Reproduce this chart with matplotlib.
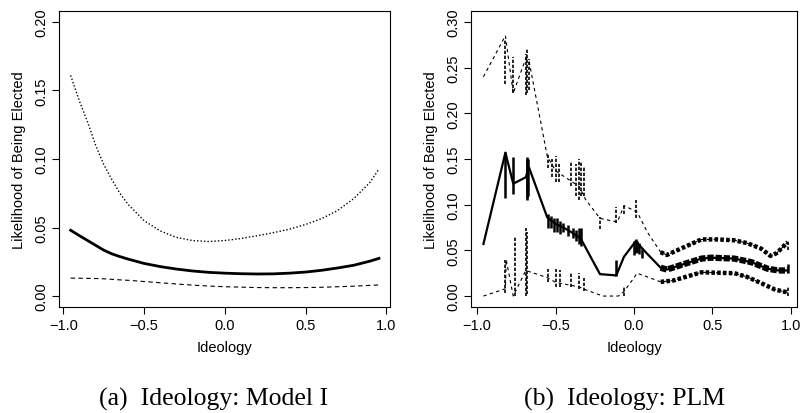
import matplotlib
matplotlib.use("Agg")
import matplotlib.pyplot as plt

plt.rcParams['font.family'] = ['Liberation Sans', 'DejaVu Sans']

# ---- panel (a): Model I ----
a_x = [-0.955, -0.9, -0.85, -0.8, -0.75, -0.7, -0.65, -0.6, -0.5, -0.4, -0.3, -0.2, -0.1, 0.0, 0.1, 0.2,
       0.3, 0.4, 0.5, 0.6, 0.7, 0.8, 0.9, 0.955]
a_mean = [0.048, 0.044, 0.0405, 0.037, 0.0335, 0.0308, 0.0288, 0.027, 0.0238, 0.0215, 0.0197, 0.0183, 0.0173,
          0.0167, 0.0163, 0.0161, 0.0162, 0.0167, 0.0175, 0.0188, 0.0205, 0.0225, 0.0255, 0.0275]
a_upper = [0.161, 0.142, 0.127, 0.110, 0.096, 0.085, 0.075, 0.067, 0.055, 0.0475, 0.0428, 0.0405, 0.0398,
           0.0405, 0.042, 0.044, 0.0462, 0.0488, 0.0522, 0.0565, 0.0625, 0.0712, 0.083, 0.0927]
a_lower = [0.0131, 0.013, 0.0129, 0.0128, 0.0126, 0.0122, 0.0118, 0.0115, 0.0106, 0.0097, 0.0088, 0.008, 0.0073,
           0.0068, 0.0065, 0.0062, 0.0061, 0.0061, 0.0062, 0.0064, 0.0068, 0.0072, 0.0078, 0.0081]

# ---- panel (b): PLM ----
b_x = [-0.96, -0.82, -0.77, -0.69, -0.67, -0.553, -0.5, -0.45, -0.4, -0.34, -0.217, -0.113, -0.064, 0.011,
       0.08, 0.17, 0.21, 0.3, 0.43, 0.49, 0.64, 0.75, 0.85, 0.92, 0.98]
b_mean = [0.057, 0.157, 0.123, 0.13, 0.141, 0.086, 0.079, 0.075, 0.07, 0.063, 0.024, 0.0226, 0.043, 0.06,
          0.047, 0.031, 0.029, 0.034, 0.041, 0.042, 0.041, 0.037, 0.03, 0.028, 0.028]
b_upper_x = [-0.96, -0.82, -0.77, -0.69, -0.67, -0.553, -0.5, -0.35, -0.31, -0.217, -0.106, -0.064, 0.02, 0.085,
             0.17, 0.21, 0.3, 0.43, 0.53, 0.64, 0.72, 0.81, 0.87, 0.91, 0.98]
b_upper = [0.24, 0.285, 0.222, 0.26, 0.258, 0.153, 0.137, 0.12, 0.106, 0.085, 0.081, 0.099, 0.092, 0.07,
           0.048, 0.045, 0.052, 0.062, 0.062, 0.061, 0.058, 0.052, 0.044, 0.047, 0.059]
b_lower_x = [-0.96, -0.82, -0.815, -0.77, -0.69, -0.55, -0.5, -0.35, -0.31, -0.2, -0.1, -0.064, 0.0, 0.02,
             0.1, 0.17, 0.25, 0.43, 0.64, 0.72, 0.8, 0.9, 0.98]
b_lower = [0.0, 0.008, 0.04, 0.0, 0.028, 0.02, 0.015, 0.01, 0.007, 0.0, 0.0, 0.005, 0.02, 0.025,
           0.02, 0.0155, 0.017, 0.026, 0.025, 0.021, 0.015, 0.007, 0.004]

# vertical spikes (x, low, high) seen on the PLM bands
mean_spk_x = [-0.82, -0.77, -0.685, -0.68, -0.675, -0.55, -0.53, -0.51, -0.49, -0.47, -0.45, -0.42, -0.39, -0.37,
              -0.35, -0.34, -0.113, 0.0, 0.01, 0.02, 0.03, 0.05, 0.98]
mean_spk_lo = [0.107, 0.112, 0.105, 0.107, 0.11, 0.075, 0.075, 0.07, 0.07, 0.068, 0.07, 0.066, 0.063, 0.06,
               0.057, 0.055, 0.022, 0.045, 0.047, 0.048, 0.046, 0.042, 0.025]
mean_spk_hi = [0.158, 0.152, 0.15, 0.152, 0.15, 0.09, 0.088, 0.085, 0.085, 0.082, 0.08, 0.078, 0.075, 0.072,
               0.075, 0.075, 0.04, 0.06, 0.062, 0.06, 0.058, 0.052, 0.035]
up_spk_x = [-0.82, -0.77, -0.69, -0.68, -0.67, -0.55, -0.52, -0.5, -0.48, -0.4, -0.37, -0.35, -0.34, -0.32,
            -0.217, -0.113, -0.064, 0.015, 0.98]
up_spk_lo = [0.232, 0.222, 0.22, 0.222, 0.225, 0.14, 0.13, 0.125, 0.125, 0.12, 0.11, 0.105, 0.11, 0.11,
             0.073, 0.08, 0.09, 0.085, 0.05]
up_spk_hi = [0.28, 0.262, 0.265, 0.272, 0.26, 0.157, 0.15, 0.153, 0.145, 0.148, 0.145, 0.15, 0.148, 0.142,
             0.087, 0.097, 0.1, 0.105, 0.061]
lo_spk_x = [-0.82, -0.76, -0.69, -0.685, -0.55, -0.5, -0.47, -0.4, -0.35, -0.32, -0.064, 0.98]
lo_spk_lo = [0.003, 0.0, 0.0, 0.002, 0.015, 0.01, 0.01, 0.01, 0.008, 0.005, 0.0, 0.0]
lo_spk_hi = [0.04, 0.066, 0.075, 0.07, 0.03, 0.03, 0.028, 0.025, 0.025, 0.02, 0.01, 0.01]

fig = plt.figure(figsize=(8, 4.14), dpi=100)
ax1 = fig.add_axes([0.074, 0.256, 0.414, 0.715])
ax2 = fig.add_axes([0.589, 0.256, 0.407, 0.715])

ax1.plot(a_x, a_mean, color='black', lw=2.0)
ax1.plot(a_x, a_upper, color='black', lw=1.0, linestyle=(0, (1, 1.5)))
ax1.plot(a_x, a_lower, color='black', lw=0.8, linestyle=(0, (4, 3)))
ax1.set_xlim(-1.026, 1.026)
ax1.set_ylim(-0.008, 0.208)
ax1.set_yticks([0.0, 0.05, 0.10, 0.15, 0.20])
ax1.set_yticklabels(['0.00', '0.05', '0.10', '0.15', '0.20'])

ax2.plot(b_x, b_mean, color='black', lw=1.6)
band = [i for i, v in enumerate(b_x) if v >= 0.15]
ax2.plot([b_x[i] for i in band], [b_mean[i] for i in band], color='black', lw=4.5, linestyle=(0, (1, 0.3)))
ax2.plot(b_upper_x, b_upper, color='black', lw=0.8, linestyle=(0, (3, 3)))
bu = [i for i, v in enumerate(b_upper_x) if v >= 0.15]
ax2.plot([b_upper_x[i] for i in bu], [b_upper[i] for i in bu], color='black', lw=3.2, linestyle=(0, (0.8, 0.5)))
ax2.plot(b_lower_x, b_lower, color='black', lw=0.8, linestyle=(0, (3, 3)))
bl = [i for i, v in enumerate(b_lower_x) if v >= 0.15]
ax2.plot([b_lower_x[i] for i in bl], [b_lower[i] for i in bl], color='black', lw=3.2, linestyle=(0, (0.8, 0.5)))
ax2.vlines(mean_spk_x, mean_spk_lo, mean_spk_hi, color='black', lw=1.8)
ax2.vlines(up_spk_x, up_spk_lo, up_spk_hi, color='black', lw=1.2, linestyle=(0, (2, 1)))
ax2.vlines(lo_spk_x, lo_spk_lo, lo_spk_hi, color='black', lw=1.2, linestyle=(0, (2, 1)))
ax2.set_xlim(-1.038, 1.038)
ax2.set_ylim(-0.012, 0.312)
ax2.set_yticks([0.0, 0.05, 0.10, 0.15, 0.20, 0.25, 0.30])
ax2.set_yticklabels(['0.00', '0.05', '0.10', '0.15', '0.20', '0.25', '0.30'])

for ax in (ax1, ax2):
    ax.set_xticks([-1.0, -0.5, 0.0, 0.5, 1.0])
    ax.set_xticklabels(['\u22121.0', '\u22120.5', '0.0', '0.5', '1.0'])
    ax.tick_params(direction='out', length=5, width=0.8, labelsize=10.5, pad=3)
    for lab in ax.get_yticklabels():
        lab.set_rotation(90)
        lab.set_va('center')
    for s in ax.spines.values():
        s.set_linewidth(0.8)
    ax.set_xlabel('Ideology', fontsize=10.5, labelpad=6)
    ax.set_ylabel('Likelihood of Being Elected', fontsize=10.5, labelpad=6)

fig.text(0.267, 0.035, '(a)  Ideology: Model I', ha='center', va='center', fontsize=18.5, family='Liberation Serif')
fig.text(0.78, 0.035, '(b)  Ideology: PLM', ha='center', va='center', fontsize=18.5, family='Liberation Serif')

fig.savefig('out.png', dpi=100)
